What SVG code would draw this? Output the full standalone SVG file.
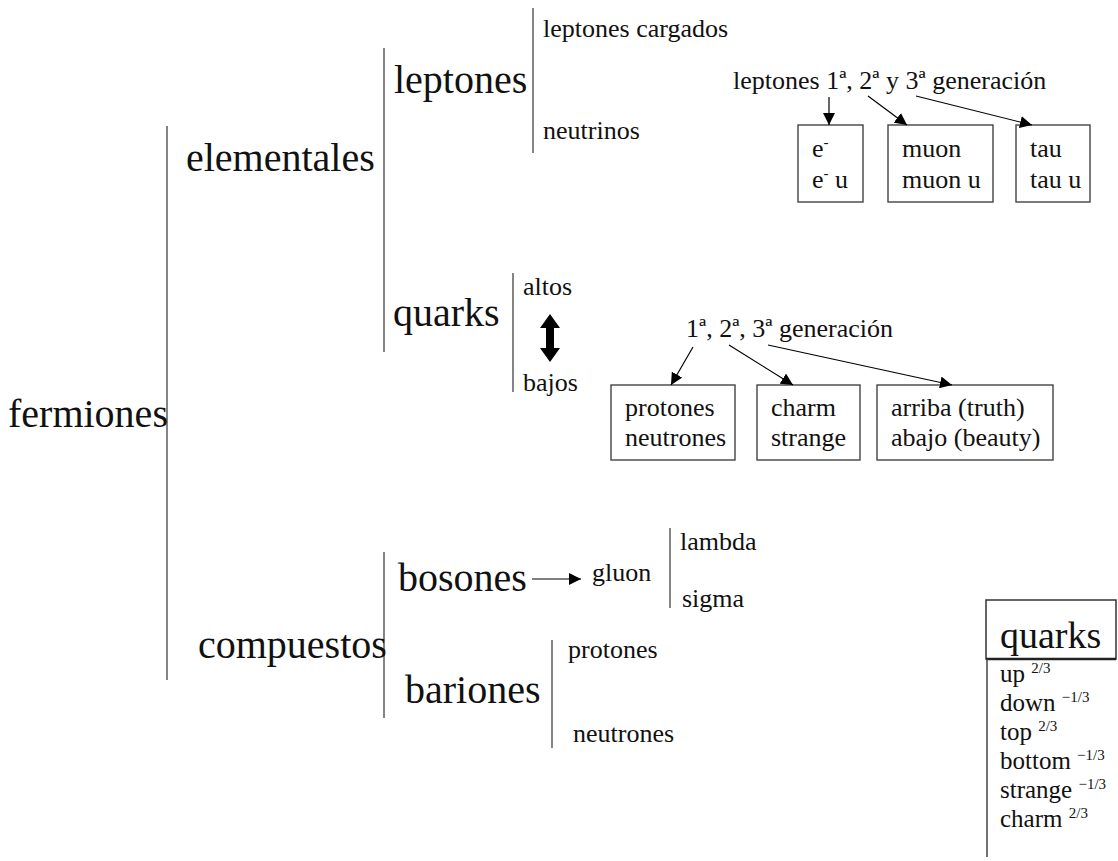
<svg xmlns="http://www.w3.org/2000/svg" width="1118" height="861" viewBox="0 0 1118 861">
  <defs>
    <marker id="arrow" viewBox="0 0 10 10" refX="10" refY="5" markerWidth="12" markerHeight="12" markerUnits="userSpaceOnUse" orient="auto">
      <path d="M0,0 L10,5 L0,10 Z" fill="#000"/>
    </marker>
    <style>
      text { font-family: "Liberation Serif", "Times New Roman", serif; fill: #111; }
      .big { font-size: 40px; }
      .lbl { font-size: 26px; }
      .lst { font-size: 25px; }
      .sup { font-size: 15px; }
      .brace { stroke: #666; stroke-width: 1.6; fill: none; }
      .box { stroke: #444; stroke-width: 1.4; fill: #fff; }
      .conn { stroke: #000; stroke-width: 1.2; fill: none; marker-end: url(#arrow); }
    </style>
  </defs>
  <rect width="1118" height="861" fill="#fff"/>

  <!-- grouping bars of the classification tree -->
  <g id="bars">
    <line class="brace" x1="167" y1="126" x2="167" y2="680"/>
    <line class="brace" x1="384" y1="48" x2="384" y2="352"/>
    <line class="brace" x1="533" y1="8" x2="533" y2="153"/>
    <line class="brace" x1="513" y1="273" x2="513" y2="392"/>
    <line class="brace" x1="384" y1="552" x2="384" y2="718"/>
    <line class="brace" x1="670" y1="528" x2="670" y2="608"/>
    <line class="brace" x1="552" y1="640" x2="552" y2="748"/>
  </g>

  <g id="fermiones"><text class="big" x="8" y="427">fermiones</text></g>
  <g id="elementales"><text class="big" x="186" y="171">elementales</text></g>
  <g id="compuestos"><text class="big" x="198" y="658">compuestos</text></g>

  <g id="leptones">
    <text class="big" x="394" y="93">leptones</text>
    <text class="lbl" x="543" y="37">leptones cargados</text>
    <text class="lbl" x="543" y="139">neutrinos</text>
  </g>

  <g id="lepton-generations">
    <text class="lbl" x="733" y="89">leptones 1ª, 2ª y 3ª generación</text>
  </g>
  <g id="box-e">
    <rect class="box" x="798" y="125" width="65" height="77"/>
    <text class="lbl" x="812" y="157">e<tspan class="sup" dy="-10">-</tspan></text>
    <text class="lbl" x="812" y="188">e<tspan class="sup" dy="-10">-</tspan><tspan dy="10"> u</tspan></text>
  </g>
  <g id="box-muon">
    <rect class="box" x="888" y="125" width="105" height="77"/>
    <text class="lbl" x="902" y="157">muon</text>
    <text class="lbl" x="902" y="188">muon u</text>
  </g>
  <g id="box-tau">
    <rect class="box" x="1016" y="125" width="74" height="77"/>
    <text class="lbl" x="1030" y="157">tau</text>
    <text class="lbl" x="1030" y="188">tau u</text>
  </g>

  <g id="quarks">
    <text class="big" x="393" y="326">quarks</text>
    <text class="lbl" x="523" y="295">altos</text>
    <text class="lbl" x="523" y="391">bajos</text>
    <polygon points="550,314 560,328 554,328 554,348 560,348 550,362 540,348 546,348 546,328 540,328" fill="#000"/>
  </g>

  <g id="quark-generations">
    <text class="lbl" x="686" y="337">1ª, 2ª, 3ª generación</text>
  </g>
  <g id="box-first">
    <rect class="box" x="611" y="385" width="124" height="75"/>
    <text class="lbl" x="625" y="416">protones</text>
    <text class="lbl" x="625" y="446">neutrones</text>
  </g>
  <g id="box-second">
    <rect class="box" x="757" y="385" width="103" height="75"/>
    <text class="lbl" x="771" y="416">charm</text>
    <text class="lbl" x="771" y="446">strange</text>
  </g>
  <g id="box-third">
    <rect class="box" x="877" y="385" width="176" height="75"/>
    <text class="lbl" x="891" y="416">arriba (truth)</text>
    <text class="lbl" x="891" y="446">abajo (beauty)</text>
  </g>

  <g id="bosones">
    <text class="big" x="398" y="591">bosones</text>
    <text class="lbl" x="592" y="581">gluon</text>
    <text class="lbl" x="680" y="550">lambda</text>
    <text class="lbl" x="682" y="607">sigma</text>
  </g>

  <g id="bariones">
    <text class="big" x="405" y="703">bariones</text>
    <text class="lbl" x="568" y="658">protones</text>
    <text class="lbl" x="573" y="742">neutrones</text>
  </g>

  <!-- arrows -->
  <g id="connectors">
    <line class="conn" x1="829" y1="97" x2="829" y2="125"/>
    <line class="conn" x1="868" y1="96" x2="907" y2="125"/>
    <line class="conn" x1="916" y1="96" x2="1032" y2="125"/>
    <line class="conn" x1="693" y1="347" x2="671" y2="385"/>
    <line class="conn" x1="729" y1="345" x2="793" y2="385"/>
    <line class="conn" x1="768" y1="345" x2="952" y2="385"/>
    <line class="conn" x1="532" y1="579" x2="581" y2="579"/>
  </g>

  <!-- quark charge table -->
  <g id="quark-table">
    <rect x="986" y="600" width="130" height="59" fill="#fff" stroke="#333" stroke-width="1.5"/>
    <line x1="986" y1="659" x2="1116" y2="659" stroke="#222" stroke-width="2.5"/>
    <line x1="987" y1="659" x2="987" y2="857" stroke="#444" stroke-width="1.5"/>
    <text x="1000" y="648" style="font-size:38px">quarks</text>
    <text class="lst" x="1000" y="682">up <tspan class="sup" dy="-9">2/3</tspan></text>
    <text class="lst" x="1000" y="711">down <tspan class="sup" dy="-9">−1/3</tspan></text>
    <text class="lst" x="1000" y="740">top <tspan class="sup" dy="-9">2/3</tspan></text>
    <text class="lst" x="1000" y="769">bottom <tspan class="sup" dy="-9">−1/3</tspan></text>
    <text class="lst" x="1000" y="798">strange <tspan class="sup" dy="-9">−1/3</tspan></text>
    <text class="lst" x="1000" y="827">charm <tspan class="sup" dy="-9">2/3</tspan></text>
  </g>
</svg>
